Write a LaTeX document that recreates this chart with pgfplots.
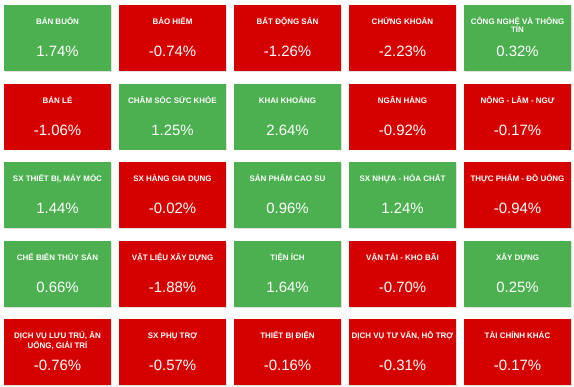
\documentclass[border=0pt]{standalone}
\usepackage{pgfplots}
\usepackage{pgfplotstable}
\pgfplotsset{compat=1.18}
\usepackage{fontspec}
\setmainfont{Liberation Sans}
\definecolor{tgreen}{RGB}{76,175,80}
\definecolor{tred}{RGB}{213,0,0}
\pgfdeclareplotmark{tile}{\pgfpathrectangle{\pgfpoint{-53.5bp}{-33bp}}{\pgfpoint{107bp}{66bp}}\pgfusepathqfill}
\pgfplotstableread{
col row value label
0 0 1.74  {BÁN BUÔN}
1 0 -0.74 {BẢO HIỂM}
2 0 -1.26 {BẤT ĐỘNG SẢN}
3 0 -2.23 {CHỨNG KHOÁN}
4 0 0.32  {CÔNG NGHỆ VÀ THÔNG\\TIN}
0 1 -1.06 {BÁN LẺ}
1 1 1.25  {CHĂM SÓC SỨC KHỎE}
2 1 2.64  {KHAI KHOÁNG}
3 1 -0.92 {NGÂN HÀNG}
4 1 -0.17 {NÔNG - LÂM - NGƯ}
0 2 1.44  {SX THIẾT BỊ, MÁY MÓC}
1 2 -0.02 {SX HÀNG GIA DỤNG}
2 2 0.96  {SẢN PHẨM CAO SU}
3 2 1.24  {SX NHỰA - HÓA CHẤT}
4 2 -0.94 {THỰC PHẨM - ĐỒ UỐNG}
0 3 0.66  {CHẾ BIẾN THỦY SẢN}
1 3 -1.88 {VẬT LIỆU XÂY DỰNG}
2 3 1.64  {TIỆN ÍCH}
3 3 -0.70 {VẬN TẢI - KHO BÃI}
4 3 0.25  {XÂY DỰNG}
0 4 -0.76 {DỊCH VỤ LƯU TRÚ, ĂN\\UỐNG, GIẢI TRÍ}
1 4 -0.57 {SX PHỤ TRỢ}
2 4 -0.16 {THIẾT BỊ ĐIỆN}
3 4 -0.31 {DỊCH VỤ TƯ VẤN, HỖ TRỢ}
4 4 -0.17 {TÀI CHÍNH KHÁC}
}\tiles
\begin{document}
\begin{tikzpicture}
\begin{axis}[
  width=574bp, height=387bp, scale only axis,
  xmin=0, xmax=574, ymin=0, ymax=387, y dir=reverse,
  hide axis, clip=false,
  colormap={updown}{rgb255(0cm)=(213,0,0); rgb255(1cm)=(76,175,80)},
  point meta min=-0.01, point meta max=0.01,
  /pgf/number format/assume math mode=true,
]
% shadow
\addplot[only marks, mark=tile, color=black!12, mark options={xshift=0.8bp, yshift=-0.8bp}]
  table[x expr=57.5+115*\thisrow{col}, y expr=38+78.6*\thisrow{row}] {\tiles};
% tiles
\addplot[scatter, only marks, mark=tile, point meta=\thisrow{value}]
  table[x expr=57.5+115*\thisrow{col}, y expr=38+78.6*\thisrow{row}] {\tiles};
% category labels
\addplot[only marks, mark=none, point meta=explicit symbolic,
  nodes near coords={\renewcommand{\arraystretch}{1}\begin{tabular}[t]{@{}c@{}}\pgfplotspointmeta\end{tabular}},
  every node near coord/.style={anchor=base, yshift=13.5bp, inner sep=0pt, text=white,
    font=\fontsize{8}{8}\selectfont\bfseries}]
  table[x expr=57.5+115*\thisrow{col}, y expr=38+78.6*\thisrow{row}, meta=label] {\tiles};
% values
\addplot[only marks, mark=none, point meta=\thisrow{value},
  nodes near coords={\pgfmathprintnumber[fixed, precision=2, fixed zerofill, assume math mode=true]{\pgfplotspointmeta}\%},
  every node near coord/.style={anchor=base, yshift=-18.5bp, inner sep=0pt, text=white,
    font=\fontsize{15}{18}\selectfont}]
  table[x expr=57.5+115*\thisrow{col}, y expr=38+78.6*\thisrow{row}] {\tiles};
\end{axis}
\pgfresetboundingbox
\path (current axis.south west) rectangle (current axis.north east);
\end{tikzpicture}
\end{document}
